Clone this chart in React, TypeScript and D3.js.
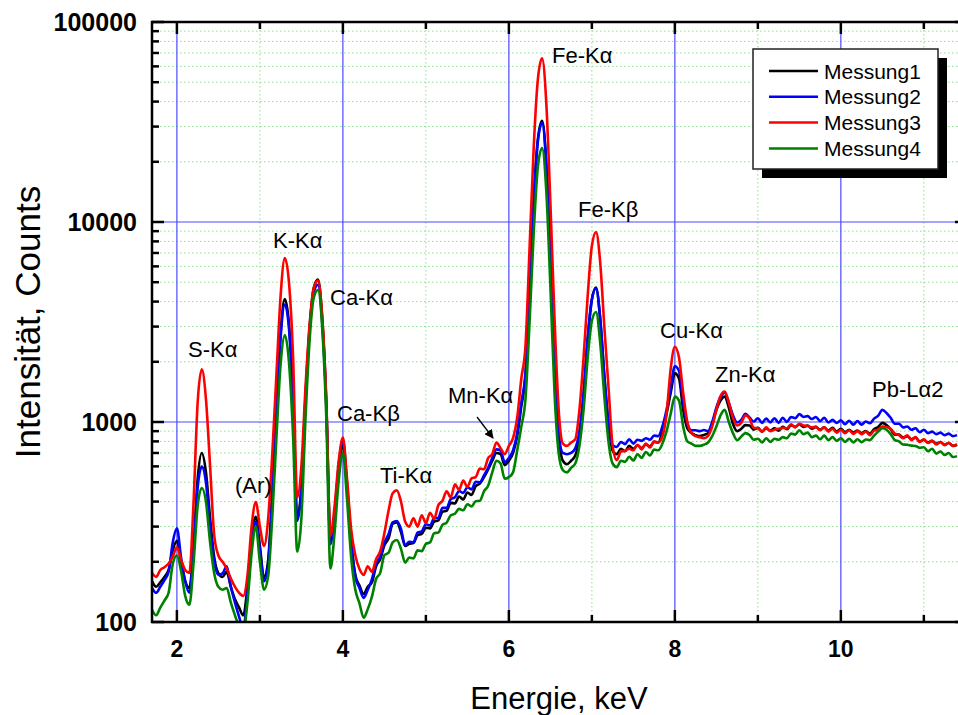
import React from 'react';
import * as d3 from 'd3';

// Energy grid (keV)
const energies = [
  1.70, 1.75, 1.80, 1.85, 1.90, 1.95, 2.00, 2.05, 2.10, 2.15,
  2.20, 2.25, 2.30, 2.35, 2.40, 2.45, 2.50, 2.55, 2.60, 2.65,
  2.70, 2.75, 2.80, 2.85, 2.90, 2.95, 3.00, 3.05, 3.10, 3.15,
  3.20, 3.25, 3.30, 3.35, 3.40, 3.45, 3.50, 3.55, 3.60, 3.65,
  3.70, 3.75, 3.80, 3.85, 3.90, 3.95, 4.00, 4.05, 4.10, 4.15,
  4.20, 4.25, 4.30, 4.35, 4.40, 4.45, 4.50, 4.55, 4.60, 4.65,
  4.70, 4.75, 4.80, 4.85, 4.90, 4.95, 5.00, 5.05, 5.10, 5.15,
  5.20, 5.25, 5.30, 5.35, 5.40, 5.45, 5.50, 5.55, 5.60, 5.65,
  5.70, 5.75, 5.80, 5.85, 5.90, 5.95, 6.00, 6.05, 6.10, 6.15,
  6.20, 6.25, 6.30, 6.35, 6.40, 6.45, 6.50, 6.55, 6.60, 6.65,
  6.70, 6.75, 6.80, 6.85, 6.90, 6.95, 7.00, 7.05, 7.10, 7.15,
  7.20, 7.25, 7.30, 7.35, 7.40, 7.45, 7.50, 7.55, 7.60, 7.65,
  7.70, 7.75, 7.80, 7.85, 7.90, 7.95, 8.00, 8.05, 8.10, 8.15,
  8.20, 8.25, 8.30, 8.35, 8.40, 8.45, 8.50, 8.55, 8.60, 8.65,
  8.70, 8.75, 8.80, 8.85, 8.90, 8.95, 9.00, 9.05, 9.10, 9.15,
  9.20, 9.25, 9.30, 9.35, 9.40, 9.45, 9.50, 9.55, 9.60, 9.65,
  9.70, 9.75, 9.80, 9.85, 9.90, 9.95, 10.00, 10.05, 10.10, 10.15,
  10.20, 10.25, 10.30, 10.35, 10.40, 10.45, 10.50, 10.55, 10.60, 10.65,
  10.70, 10.75, 10.80, 10.85, 10.90, 10.95, 11.00, 11.05, 11.10, 11.15,
  11.20, 11.25, 11.30, 11.35, 11.40,
];

const messung1 = [
  160, 150, 158, 168, 182, 228, 255, 200, 160, 148,
  235, 520, 700, 560, 330, 210, 175, 168, 178, 150,
  130, 118, 108, 150, 260, 336, 240, 165, 205, 450,
  1150, 2800, 4120, 3100, 1300, 330, 480, 1350, 3000, 4700,
  5150, 3350, 1250, 255, 340, 580, 770, 470, 250, 172,
  152, 138, 150, 158, 190, 206, 242, 262, 310, 315,
  282, 240, 246, 248, 272, 276, 296, 294, 318, 322,
  356, 360, 394, 392, 424, 410, 444, 432, 478, 492,
  530, 580, 640, 700, 690, 610, 640, 700, 850, 1200,
  1700, 4500, 13000, 26000, 32100, 20000, 6500, 1800, 850, 640,
  615, 640, 680, 850, 1350, 2600, 4100, 4700, 3300, 1700,
  980, 720, 690, 735, 715, 760, 735, 765, 740, 772,
  755, 795, 790, 900, 1100, 1400, 1750, 1650, 1150, 930,
  880, 860, 850, 862, 878, 980, 1150, 1280, 1340, 1180,
  980, 900, 925, 965, 960, 915, 935, 895, 930, 905,
  930, 905, 945, 920, 965, 945, 975, 945, 960, 925,
  945, 915, 940, 905, 935, 895, 925, 890, 915, 885,
  905, 880, 900, 875, 920, 945, 990, 965, 920, 865,
  865, 835, 850, 820, 835, 800, 815, 790, 805, 780,
  795, 770, 785, 760, 770,
];

const messung2 = [
  148, 140, 150, 162, 178, 250, 294, 210, 160, 140,
  225, 470, 598, 500, 300, 200, 172, 175, 190, 150,
  125, 106, 92, 140, 240, 317, 230, 160, 195, 430,
  1100, 2650, 3870, 2950, 1250, 320, 460, 1300, 2900, 4500,
  4850, 3200, 1200, 245, 350, 610, 810, 490, 255, 168,
  148, 132, 145, 164, 196, 212, 250, 275, 315, 320,
  292, 242, 252, 250, 280, 284, 308, 304, 330, 332,
  372, 372, 412, 420, 452, 442, 472, 460, 502, 500,
  540, 590, 660, 730, 720, 630, 660, 720, 880, 1250,
  1750, 4500, 12800, 25500, 31200, 19500, 6400, 1800, 880, 700,
  690, 700, 740, 900, 1400, 2650, 4100, 4650, 3300, 1700,
  1000, 765, 750, 795, 775, 820, 780, 815, 805, 830,
  815, 855, 850, 950, 1150, 1500, 1900, 1800, 1250, 980,
  910, 910, 900, 912, 900, 1000, 1180, 1330, 1400, 1250,
  1080, 995, 1025, 1100, 1055, 1005, 1045, 990, 1040, 995,
  1045, 990, 1050, 1000, 1060, 1045, 1095, 1060, 1070, 1035,
  1060, 1010, 1050, 995, 1025, 990, 1020, 975, 1015, 970,
  1010, 970, 1005, 985, 1040, 1075, 1150, 1110, 1050, 980,
  980, 940, 950, 915, 930, 890, 915, 880, 895, 870,
  885, 860, 875, 850, 860,
];

const messung3 = [
  176, 168, 182, 188, 196, 212, 236, 205, 182, 176,
  390, 1250, 1835, 1300, 600, 270, 215, 200, 185, 165,
  150, 140, 135, 170, 300, 398, 300, 240, 330, 700,
  1750, 4300, 6600, 5000, 2100, 420, 600, 1500, 3100, 4700,
  5100, 3400, 1300, 270, 380, 640, 835, 520, 290, 215,
  184, 172, 190, 178, 206, 226, 278, 360, 440, 455,
  400, 318, 300, 330, 300, 342, 312, 352, 328, 384,
  404, 450, 420, 488, 458, 510, 474, 522, 530, 585,
  580, 660, 690, 790, 740, 690, 760, 830, 1050, 1650,
  2400, 7500, 24000, 52000, 65800, 40000, 12500, 3300, 1150, 780,
  760, 790, 820, 1150, 2100, 4300, 7600, 8900, 6300, 3000,
  1500, 760, 645, 712, 718, 735, 722, 770, 730, 780,
  745, 800, 790, 850, 1100, 1850, 2380, 2100, 1400, 1000,
  880, 850, 838, 830, 852, 950, 1150, 1350, 1420, 1250,
  1050, 960, 990, 1080, 1040, 935, 930, 895, 940, 900,
  915, 925, 935, 930, 975, 940, 980, 960, 955, 940,
  945, 910, 940, 895, 925, 885, 915, 880, 910, 872,
  900, 868, 895, 860, 905, 915, 950, 945, 925, 875,
  860, 830, 858, 812, 840, 795, 820, 785, 805, 772,
  795, 765, 788, 758, 772,
];

const messung4 = [
  115, 108, 118, 128, 140, 195, 215, 180, 135, 122,
  195, 380, 468, 400, 250, 175, 150, 145, 148, 125,
  108, 95, 90, 125, 220, 300, 200, 145, 170, 340,
  850, 1950, 2720, 2000, 850, 225, 330, 1050, 2600, 4200,
  4570, 3000, 1050, 185, 280, 510, 700, 410, 210, 145,
  124, 105, 116, 134, 164, 176, 216, 222, 250, 257,
  232, 198, 210, 208, 228, 226, 246, 250, 278, 280,
  306, 314, 342, 348, 368, 362, 388, 378, 402, 404,
  450, 480, 560, 640, 620, 520, 530, 560, 720, 950,
  1300, 3200, 9000, 19000, 23400, 14500, 4800, 1400, 700, 575,
  560, 590, 620, 760, 1150, 2100, 3200, 3550, 2500, 1350,
  800, 620, 595, 640, 632, 670, 642, 690, 662, 708,
  680, 728, 722, 780, 900, 1100, 1340, 1280, 950, 800,
  780, 760, 760, 770, 790, 850, 950, 1080, 1150, 1000,
  880, 810, 845, 880, 860, 815, 825, 790, 830, 795,
  825, 815, 840, 830, 875, 865, 910, 870, 885, 840,
  855, 820, 855, 810, 840, 805, 830, 795, 825, 790,
  820, 792, 818, 812, 855, 895, 930, 915, 870, 812,
  800, 772, 770, 762, 758, 742, 748, 715, 735, 695,
  712, 684, 700, 668, 675,
];

const seriesNames = ['Messung1', 'Messung2', 'Messung3', 'Messung4'];
const seriesColors = ['#000000', '#0000ff', '#ff0000', '#008000'];
const seriesValues = [messung1, messung2, messung3, messung4];

const xMajorTicks = [2, 4, 6, 8, 10];
const xMinorTicks = [3, 5, 7, 9, 11];
const yMajorTicks = [100, 1000, 10000, 100000];
const yTickLabels = ['100', '1000', '10000', '100000'];

const peakLabels = [
  { text: 'S-K', greek: 'α', x: 188, y: 357 },
  { text: '(Ar)', greek: '', x: 235, y: 493 },
  { text: 'K-K', greek: 'α', x: 273, y: 248 },
  { text: 'Ca-K', greek: 'α', x: 330, y: 305 },
  { text: 'Ca-K', greek: 'β', x: 337, y: 421 },
  { text: 'Ti-K', greek: 'α', x: 380, y: 483 },
  { text: 'Mn-K', greek: 'α', x: 448, y: 403 },
  { text: 'Fe-K', greek: 'α', x: 552, y: 63 },
  { text: 'Fe-K', greek: 'β', x: 578, y: 217 },
  { text: 'Cu-K', greek: 'α', x: 660, y: 338 },
  { text: 'Zn-K', greek: 'α', x: 715, y: 382 },
  { text: 'Pb-L', greek: 'α2', x: 872, y: 397 },
];

const W = 958;
const H = 715;
const left = 152;
const right = 967;
const top = 22;
const bottom = 622;
const font = "'Liberation Sans', Arial, Helvetica, sans-serif";

export default function App() {
  const x = d3.scaleLinear().domain([1.7, 11.52]).range([left, right]);
  const y = d3.scaleLog().domain([100, 100000]).range([bottom, top]);

  const yMinor: number[] = [];
  [100, 1000, 10000].forEach((d) => {
    for (let k = 2; k <= 9; k++) yMinor.push(d * k);
  });

  const line = d3
    .line<number>()
    .x((_, i) => x(energies[i]))
    .y((v) => y(v))
    .curve(d3.curveMonotoneX);

  return (
    <svg
      width={W}
      height={H}
      style={{ position: 'absolute', left: 0, top: 0, background: '#fff' }}
      fontFamily={font}
    >
      <defs>
        <clipPath id="plotClip">
          <rect x={left} y={top} width={right - left} height={bottom - top} />
        </clipPath>
        <marker id="arrowHead" viewBox="0 0 10 10" refX="9" refY="5" markerWidth="7" markerHeight="7" orient="auto">
          <path d="M0,0 L10,5 L0,10 z" fill="#000" />
        </marker>
      </defs>
      <rect x={0} y={0} width={W} height={H} fill="#fff" />

      {/* minor grid */}
      {xMinorTicks.map((t) => (
        <line key={'vx' + t} x1={x(t)} x2={x(t)} y1={top} y2={bottom} stroke="#8fdc8f" strokeWidth={1} strokeDasharray="1.5,2.5" />
      ))}
      {yMinor.map((t) => (
        <line key={'hy' + t} x1={left} x2={right} y1={y(t)} y2={y(t)} stroke="#8fdc8f" strokeWidth={1} strokeDasharray="1.5,2.5" />
      ))}
      {/* major grid */}
      {xMajorTicks.map((t) => (
        <line key={'VX' + t} x1={x(t)} x2={x(t)} y1={top} y2={bottom} stroke="#4a4aff" strokeWidth={1.2} />
      ))}
      {[1000, 10000].map((t) => (
        <line key={'HY' + t} x1={left} x2={right} y1={y(t)} y2={y(t)} stroke="#4a4aff" strokeWidth={1.2} />
      ))}

      {/* data */}
      <g clipPath="url(#plotClip)">
        {seriesValues.map((vals, i) => (
          <path key={seriesNames[i]} d={line(vals) || ''} fill="none" stroke={seriesColors[i]} strokeWidth={2.6} strokeLinejoin="round" />
        ))}
      </g>

      {/* frame */}
      <rect x={left} y={top} width={right - left} height={bottom - top} fill="none" stroke="#000" strokeWidth={2.5} />

      {/* x ticks */}
      {xMajorTicks.map((t) => (
        <g key={'xt' + t}>
          <line x1={x(t)} x2={x(t)} y1={bottom} y2={bottom - 12} stroke="#000" strokeWidth={2.5} />
          <line x1={x(t)} x2={x(t)} y1={top} y2={top + 12} stroke="#000" strokeWidth={2.5} />
          <text x={x(t)} y={657} textAnchor="middle" fontSize={23} fontWeight="bold">{t}</text>
        </g>
      ))}
      {xMinorTicks.map((t) => (
        <g key={'xm' + t}>
          <line x1={x(t)} x2={x(t)} y1={bottom} y2={bottom - 7} stroke="#000" strokeWidth={2.5} />
          <line x1={x(t)} x2={x(t)} y1={top} y2={top + 7} stroke="#000" strokeWidth={2.5} />
        </g>
      ))}
      {/* y ticks */}
      {yMajorTicks.map((t, i) => (
        <g key={'yt' + t}>
          <line x1={left} x2={left + 12} y1={y(t)} y2={y(t)} stroke="#000" strokeWidth={2.5} />
          <line x1={right} x2={right - 12} y1={y(t)} y2={y(t)} stroke="#000" strokeWidth={2.5} />
          <text x={137} y={y(t)} dy="0.36em" textAnchor="end" fontSize={25} fontWeight="bold">{yTickLabels[i]}</text>
        </g>
      ))}
      {yMinor.map((t) => (
        <g key={'ym' + t}>
          <line x1={left} x2={left + 7} y1={y(t)} y2={y(t)} stroke="#000" strokeWidth={2.5} />
          <line x1={right} x2={right - 7} y1={y(t)} y2={y(t)} stroke="#000" strokeWidth={2.5} />
        </g>
      ))}

      {/* axis titles */}
      <text x={559} y={709} textAnchor="middle" fontSize={31}>Energie, keV</text>
      <text transform="translate(40,322) rotate(-90)" textAnchor="middle" fontSize={35}>Intensität, Counts</text>

      {/* peak labels */}
      {peakLabels.map((p) => (
        <text key={p.text + p.greek + p.x} x={p.x} y={p.y} fontSize={22}>
          {p.text}
          {p.greek && <tspan>{p.greek}</tspan>}
        </text>
      ))}
      <line x1={477} y1={417} x2={493} y2={438} stroke="#000" strokeWidth={1.3} markerEnd="url(#arrowHead)" />

      {/* legend */}
      <rect x={762} y={58} width={185} height={120} fill="#000" />
      <rect x={753} y={49} width={185} height={120} fill="#fff" stroke="#222" strokeWidth={1.5} />
      {seriesNames.map((n, i) => {
        const ly = 71 + i * 25.8;
        return (
          <g key={'lg' + n}>
            <line x1={769} x2={818} y1={ly} y2={ly} stroke={seriesColors[i]} strokeWidth={2.5} />
            <text x={824} y={ly} dy="0.36em" fontSize={21}>{n}</text>
          </g>
        );
      })}
    </svg>
  );
}
